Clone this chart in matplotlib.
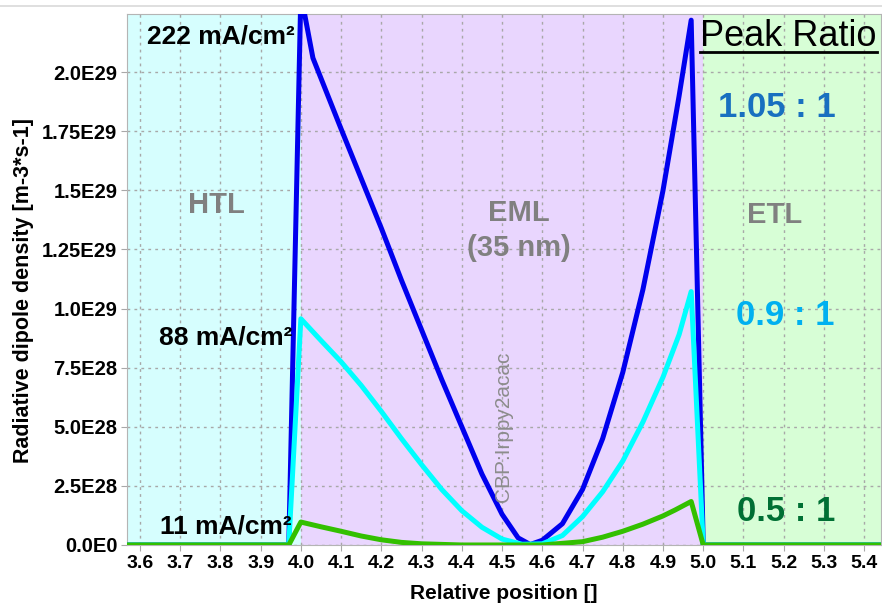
import numpy as np
import matplotlib.pyplot as plt
from matplotlib.lines import Line2D

plt.rcParams['font.family'] = ['Liberation Sans', 'DejaVu Sans']

# 复合区分布 (单位 1E28 m-3 s-1)
x_222 = [3.50, 3.97, 4.00, 4.03, 4.10, 4.15, 4.20, 4.25, 4.30, 4.35, 4.40, 4.45, 4.50, 4.54, 4.57,
         4.60, 4.65, 4.70, 4.75, 4.80, 4.85, 4.90, 4.94, 4.97, 5.00, 5.50]
y_222 = [0, 0, 23.3, 20.6, 17.6, 15.5, 13.4, 11.2, 9.1, 7.0, 5.0, 3.0, 1.3, 0.3, 0.02,
         0.2, 0.9, 2.35, 4.5, 7.3, 10.8, 15.0, 19.0, 22.2, 0, 0]

x_88 = [3.50, 3.97, 4.00, 4.05, 4.10, 4.15, 4.20, 4.25, 4.30, 4.35, 4.40, 4.45, 4.50, 4.55,
        4.60, 4.65, 4.70, 4.75, 4.80, 4.85, 4.90, 4.94, 4.97, 5.00, 5.50]
y_88 = [0, 0, 9.57, 8.65, 7.75, 6.75, 5.65, 4.5, 3.4, 2.35, 1.45, 0.75, 0.25, 0.03,
        0.05, 0.4, 1.2, 2.25, 3.55, 5.2, 7.1, 8.9, 10.72, 0, 0]

x_11 = [3.50, 3.97, 4.00, 4.05, 4.10, 4.15, 4.20, 4.25, 4.30, 4.40, 4.60,
        4.70, 4.75, 4.80, 4.85, 4.90, 4.93, 4.97, 5.00, 5.50]
y_11 = [0, 0, 0.97, 0.77, 0.58, 0.38, 0.22, 0.11, 0.05, 0, 0,
        0.14, 0.33, 0.58, 0.88, 1.23, 1.48, 1.84, 0, 0]

layer_edges = [4.0, 5.0]
layer_names = ['HTL', 'EML\n(35 nm)', 'ETL']
ratios = ['1.05 : 1', '0.9 : 1', '0.5 : 1']
currents = ['222 mA/cm²', '88 mA/cm²', '11 mA/cm²']

xticks = np.round(np.arange(3.6, 5.41, 0.1), 1)
yticks = [0, 2.5e28, 5.0e28, 7.5e28, 1.0e29, 1.25e29, 1.5e29, 1.75e29, 2.0e29]
ytick_labels = ['0.0E0', '2.5E28', '5.0E28', '7.5E28', '1.0E29', '1.25E29', '1.5E29', '1.75E29', '2.0E29']

fig = plt.figure(figsize=(8.82, 6.12), dpi=100)
ax = fig.add_axes([0.144, 0.1095, 0.855, 0.8676])
xlo, xhi = 3.568, 5.442
ax.set_xlim(xlo, xhi)
ax.set_ylim(0, 2.246e29)

# 各功能层背景
ax.axvspan(xlo, layer_edges[0], color='#D6FEFE', zorder=0, lw=0)
ax.axvspan(layer_edges[0], layer_edges[1], color='#E9D6FE', zorder=0, lw=0)
ax.axvspan(layer_edges[1], xhi, color='#D7FED6', zorder=0, lw=0)

ax.set_xticks(xticks)
ax.set_xticklabels([f'{v:.1f}' for v in xticks])
ax.set_yticks(yticks)
ax.set_yticklabels(ytick_labels)
ax.grid(True, color='#A8A8A8', lw=1, linestyle=(0, (2, 3)), zorder=0.5)
ax.tick_params(labelsize=14, length=4, color='#A8A8A8', pad=3)
ax.tick_params(axis='y', labelsize=14.5)
for lab in ax.get_xticklabels() + ax.get_yticklabels():
    lab.set_fontweight('bold')
for sp in ax.spines.values():
    sp.set_color('#B4B4B4')

ax.plot(x_222, np.array(y_222) * 1e28, color='#0000EE', lw=3.6, zorder=3)
ax.plot(x_88, np.array(y_88) * 1e28, color='#00FFFF', lw=3.6, zorder=3)
ax.plot(x_11, np.array(y_11) * 1e28, color='#33C000', lw=3.6, zorder=3)

ax.set_xlabel('Relative position []', fontsize=15, fontweight='bold', labelpad=9)
ax.set_ylabel('Radiative dipole density [m-3*s-1]', fontsize=15.5, fontweight='bold')
ax.yaxis.set_label_coords(-0.123, 0.48)

# 电流密度标注
ax.text(3.985, 2.149e29, currents[0], fontsize=19, fontweight='bold', ha='right', va='center')
ax.text(3.978, 8.76e28, currents[1], fontsize=19, fontweight='bold', ha='right', va='center')
ax.text(3.978, 0.78e28, currents[2], fontsize=19, fontweight='bold', ha='right', va='center')

# 层名
ax.text(3.791, 1.438e29, layer_names[0], fontsize=21, fontweight='bold', color='#808080',
        ha='center', va='center')
ax.text(4.542, 1.33e29, layer_names[1], fontsize=21, fontweight='bold', color='#808080',
        ha='center', va='center', linespacing=1.3)
ax.text(5.178, 1.396e29, layer_names[2], fontsize=21, fontweight='bold', color='#808080',
        ha='center', va='center')
ax.text(4.5025, 4.99e28, 'CBP:Irppy2acac', fontsize=15, color='#8C8C8C', rotation=90,
        ha='center', va='center', zorder=4)

# 峰值比
title = ax.text(5.212, 2.149e29, 'Peak Ratio', fontsize=26, ha='center', va='center', zorder=5)
ax.text(5.183, 1.849e29, ratios[0], fontsize=25, fontweight='bold', color='#1870C0',
        ha='center', va='center')
ax.text(5.203, 9.69e28, ratios[1], fontsize=25, fontweight='bold', color='#00B0F0',
        ha='center', va='center')
ax.text(5.205, 1.40e28, ratios[2], fontsize=25, fontweight='bold', color='#007034',
        ha='center', va='center')

# 下划线
fig.canvas.draw()
bb = title.get_window_extent().transformed(fig.transFigure.inverted())
fig.add_artist(Line2D([bb.x0, bb.x1], [bb.y0 + 0.004, bb.y0 + 0.004], color='black', lw=2))

# 顶部细线
fig.add_artist(Line2D([0, 1], [1 - 6 / 612, 1 - 6 / 612], color='#D9D9D9', lw=1.2))

fig.savefig('out.png', dpi=100)
